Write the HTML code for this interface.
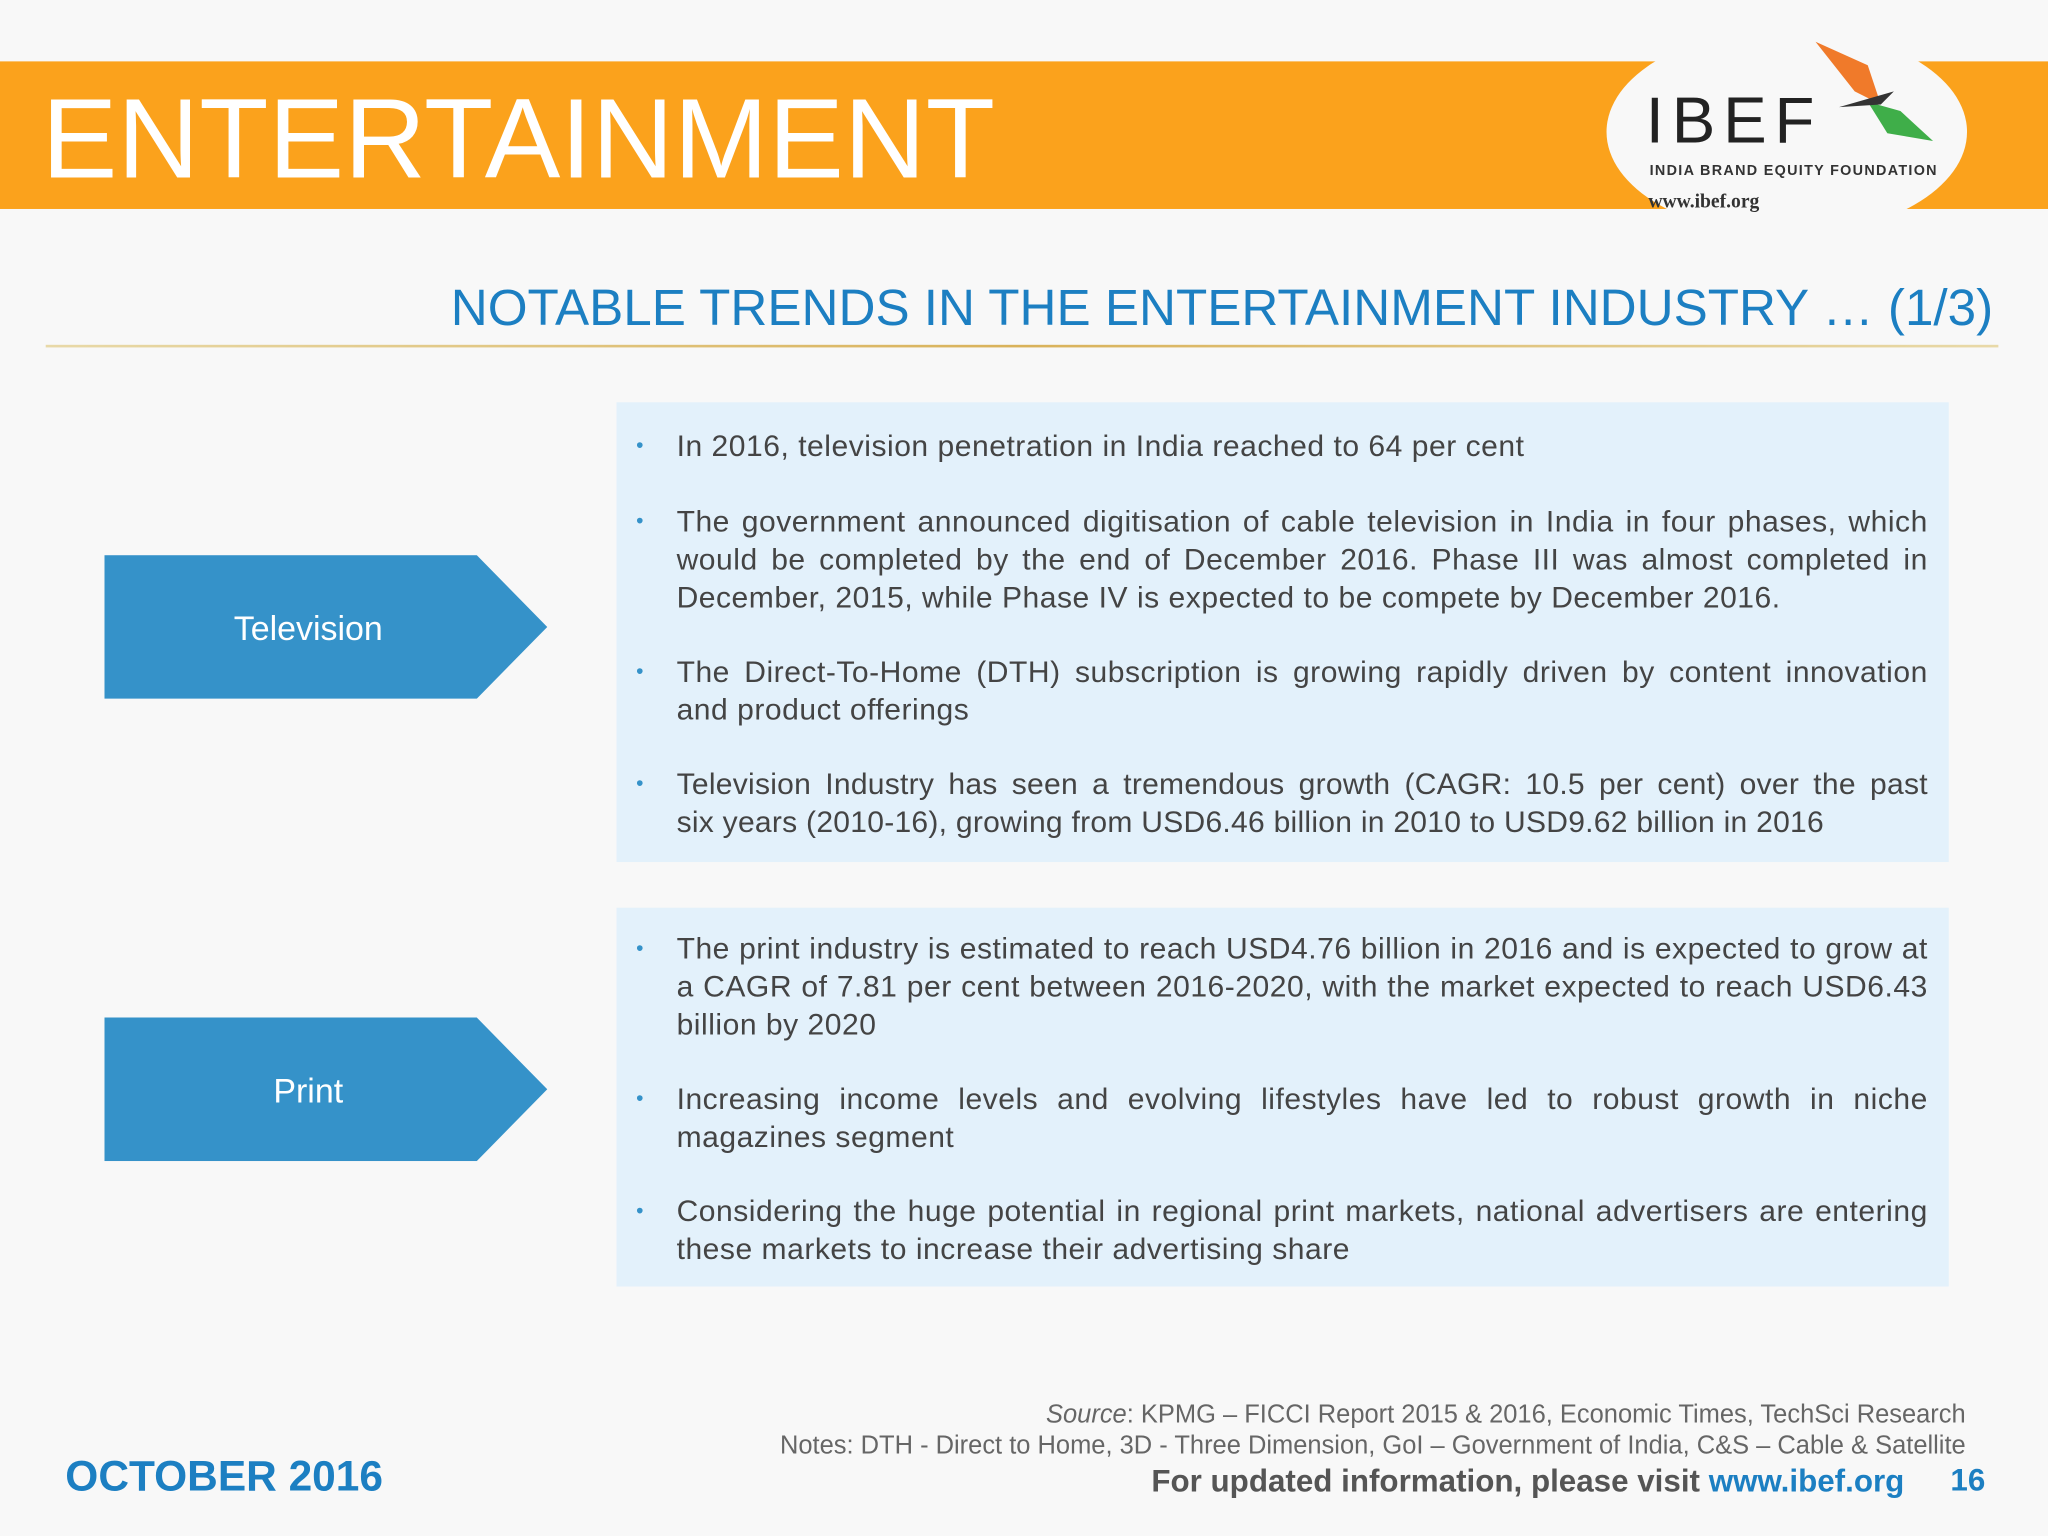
<!DOCTYPE html>
<html><head><meta charset="utf-8"><style>
html,body{margin:0;padding:0;width:2048px;height:1536px;overflow:hidden;background:#f8f8f8;}
#s{position:absolute;left:0;top:0;width:1568px;height:1176px;transform:scale(1.30612);transform-origin:0 0;font-family:"Liberation Sans",sans-serif;}
.a{position:absolute;}
.box{position:absolute;left:472px;width:1020px;background:#e3f1fb;}
.txt{position:absolute;left:518px;width:958px;font-size:23px;letter-spacing:0.4px;line-height:29px;color:#444;text-align:justify;}
.b{position:absolute;left:487px;font-size:16px;color:#3592c9;}
</style></head><body>
<div id="s">
<div class="a" style="left:0;top:47px;width:1568px;height:113px;background:#fba21c;"></div>
<div class="a" style="left:32px;top:57px;font-size:86.8px;line-height:100px;color:#fff;">ENTERTAINMENT</div>
<div class="a" style="left:1230px;top:22px;width:276px;height:158px;border-radius:50%;background:#f8f8f8;"></div>
<div class="a" style="left:1260px;top:64px;font-size:50px;line-height:56px;color:#222;letter-spacing:6px;">IBEF</div>
<svg class="a" style="left:1380px;top:30px" width="110" height="80">
<path d="M10 2 L50 20 L60 50 L40 40 Z" fill="#f07a2a"/><path d="M50 48 L75 55 L100 78 L65 72 Z" fill="#3fae49"/><path d="M28 52 L70 40 L60 50 Z" fill="#333"/></svg>
<div class="a" style="left:1263px;top:125px;font-size:11px;font-weight:bold;color:#333;letter-spacing:1px;">INDIA BRAND EQUITY FOUNDATION</div>
<div class="a" style="left:1262px;top:147px;font-size:15px;font-weight:bold;color:#333;font-family:'Liberation Serif',serif;">www.ibef.org</div>
<div class="a" style="right:42px;top:214px;font-size:39.2px;line-height:46px;color:#1c7fc2;">NOTABLE TRENDS IN THE ENTERTAINMENT INDUSTRY … (1/3)</div>
<div class="a" style="left:35px;top:264px;width:1495px;height:2px;background:linear-gradient(90deg,#e8d9a8,#d9b25a,#e8d9a8);"></div>

<div class="box" style="top:308px;height:352px;"></div>
<div class="box" style="top:695px;height:290px;"></div>

<svg class="a" style="left:80px;top:425px" width="340" height="110"><polygon points="0,0 285,0 339,55 285,110 0,110" fill="#3592c9"/><text x="156" y="65" fill="#fff" font-size="26" text-anchor="middle" font-family="Liberation Sans, sans-serif">Television</text></svg>
<svg class="a" style="left:80px;top:779px" width="340" height="110"><polygon points="0,0 285,0 339,55 285,110 0,110" fill="#3592c9"/><text x="156" y="65" fill="#fff" font-size="26" text-anchor="middle" font-family="Liberation Sans, sans-serif">Print</text></svg>

<div class="b" style="top:333px">•</div>
<div class="txt" style="top:327px">In 2016, television penetration in India reached to 64 per cent</div>
<div class="b" style="top:391px">•</div>
<div class="txt" style="top:385px">The government announced digitisation of cable television in India in four phases, which would be completed by the end of December 2016. Phase III was almost completed in December, 2015, while Phase IV is expected to be compete by December 2016.</div>
<div class="b" style="top:506px">•</div>
<div class="txt" style="top:500px">The Direct-To-Home (DTH) subscription is growing rapidly driven by content innovation and product offerings</div>
<div class="b" style="top:592px">•</div>
<div class="txt" style="top:586px;letter-spacing:0.2px;"><span style="display:block;text-align-last:justify;">Television Industry has seen a tremendous growth (CAGR: 10.5 per cent) over the past</span>six years (2010-16), growing from USD6.46 billion in 2010 to USD9.62 billion in 2016</div>

<div class="b" style="top:718px">•</div>
<div class="txt" style="top:712px">The print industry is estimated to reach USD4.76 billion in 2016 and is expected to grow at a CAGR of 7.81 per cent between 2016-2020, with the market expected to reach USD6.43 billion by 2020</div>
<div class="b" style="top:833px">•</div>
<div class="txt" style="top:827px">Increasing income levels and evolving lifestyles have led to robust growth in niche magazines segment</div>
<div class="b" style="top:919px">•</div>
<div class="txt" style="top:913px">Considering the huge potential in regional print markets, national advertisers are entering these markets to increase their advertising share</div>

<div class="a" style="right:63px;top:1072px;font-size:19.5px;color:#666;"><i>Source</i>: KPMG – FICCI Report 2015 &amp; 2016, Economic Times, TechSci Research</div>
<div class="a" style="right:63px;top:1096px;font-size:19.5px;color:#666;">Notes: DTH - Direct to Home, 3D - Three Dimension, GoI – Government of India, C&amp;S – Cable &amp; Satellite</div>
<div class="a" style="left:50px;top:1112px;font-size:32.5px;font-weight:bold;color:#1c7fc2;">OCTOBER 2016</div>
<div class="a" style="right:110px;top:1121px;font-size:24px;font-weight:bold;color:#555;">For updated information, please visit <span style="color:#1c7fc2">www.ibef.org</span></div>
<div class="a" style="right:48px;top:1120px;font-size:24px;font-weight:bold;color:#1c7fc2;">16</div>
</div>
</body></html>
